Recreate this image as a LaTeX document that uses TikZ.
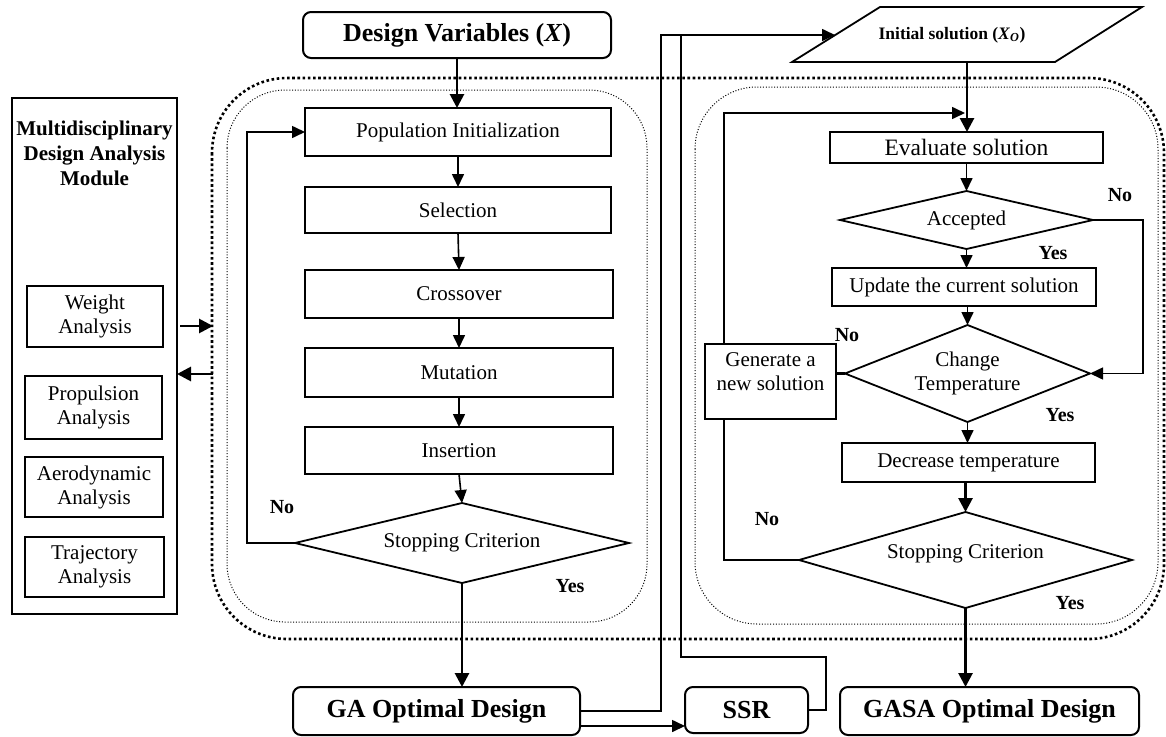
\documentclass[tikz,border=0pt]{standalone}
\usepackage{fontspec}
\setmainfont{Liberation Serif}
\usetikzlibrary{arrows.meta,shapes.geometric}
\begin{document}
\begin{tikzpicture}[x=1pt,y=-1pt,
  box/.style={draw, line width=1.5pt, inner sep=0pt, outer sep=0pt, font=\fontsize{21}{24}\selectfont, align=center},
  rbox/.style={draw, line width=2pt, rounded corners=8pt, inner sep=0pt, outer sep=0pt, font=\bfseries\fontsize{26}{30}\selectfont},
  dia/.style={draw, diamond, line width=1.8pt, inner sep=0pt, outer sep=0pt, font=\fontsize{21}{24}\selectfont, align=center},
  txt/.style={font=\fontsize{21}{24}\selectfont, align=center, inner sep=0pt},
  lbl/.style={font=\bfseries\fontsize{20}{24}\selectfont, inner sep=0pt},
  arr/.style={line width=1.6pt, -{Triangle[length=13pt,width=12pt]}},
  tarr/.style={line width=2.8pt, -{Triangle[length=14pt,width=14pt]}},
  ln/.style={line width=1.6pt},
  thickdot/.style={line width=2.6pt, dash pattern=on 2.6pt off 2.6pt},
  thindot/.style={line width=1pt, dash pattern=on 1pt off 1.8pt},
]
\useasboundingbox (0,0) rectangle (1166,736);

% dotted frames
\draw[thickdot, rounded corners=75pt] (212,78) rectangle (1164,639);
\draw[thindot, rounded corners=58pt] (227,90) rectangle (647,622);
\draw[thindot, rounded corners=62pt] (695,87) rectangle (1158,624);

% MDA module
\node[box, line width=2pt, minimum width=165, minimum height=516] (mda) at (94.5,356) {};
\node[font=\bfseries\fontsize{21}{25}\selectfont, align=center, inner sep=0pt] (mdat) at (94.5,153) {Multidisciplinary\\Design Analysis\\Module};
\node[box, minimum width=136, minimum height=61] (wt) at (95,316.5) {Weight\\Analysis};
\node[box, minimum width=137, minimum height=63] (pr) at (93.5,407.5) {Propulsion\\Analysis};
\node[box, minimum width=138, minimum height=60] (ae) at (94,487) {Aerodynamic\\Analysis};
\node[box, minimum width=139, minimum height=60] (tr) at (94.5,567) {Trajectory\\Analysis};

% GA
\node[rbox, minimum width=308, minimum height=46] (dv) at (457,35) {Design Variables (\textit{X})};
\node[box, minimum width=306, minimum height=48] (pop) at (458,132) {Population Initialization};
\node[box, minimum width=306, minimum height=46] (sel) at (458,210) {Selection};
\node[box, minimum width=308, minimum height=48] (cro) at (459,294) {Crossover};
\node[box, minimum width=308, minimum height=49] (mut) at (459,372.5) {Mutation};
\node[box, minimum width=308, minimum height=47] (ins) at (459,450.5) {Insertion};
\node[dia, aspect=4.2, minimum width=334, minimum height=80] (gst) at (462,543) {Stopping Criterion};

% bottom results
\node[rbox, minimum width=287, minimum height=48] (gao) at (436.5,711) {GA Optimal Design};
\node[rbox, minimum width=123, minimum height=46] (ssr) at (746.5,710) {SSR};
\node[rbox, minimum width=299, minimum height=48] (gasa) at (989.5,711) {GASA Optimal Design};

% SA
\draw[line width=1.8pt] (792,62) -- (880,7) -- (1142,7) -- (1055,62) -- cycle;
\node[font=\bfseries\fontsize{17.5}{20}\selectfont, inner sep=0pt] (init) at (952,35) {Initial solution (\textit{X}\textsubscript{\textit{O}})};
\coordinate (initW) at (835,35);
\coordinate (initS) at (967,62);
\node[box, minimum width=273, minimum height=31, font=\fontsize{23.5}{26}\selectfont] (eva) at (966.5,147.5) {Evaluate solution};
\node[dia, aspect=4.36, minimum width=253, minimum height=58] (acc) at (966.5,220) {Accepted};
\node[box, minimum width=264, minimum height=38] (upd) at (964,287) {Update the current solution};
\node[dia, aspect=2.53, minimum width=245, minimum height=97] (chg) at (967.5,373.5) {Change\\Temperature};
\node[box, minimum width=253, minimum height=39] (dec) at (968.5,462.5) {Decrease temperature};
\node[dia, aspect=3.47, minimum width=333, minimum height=96] (sst) at (965.5,560) {Stopping Criterion\\[-8pt]};
\node[box, minimum width=131, minimum height=75] (gen) at (770.5,381.5) {};
\node[txt] (gent) at (770.5,372) {Generate a\\new solution};
\coordinate (gx) at (724,0);

% MDA <-> GA
\draw[tarr] ([xshift=3pt,yshift=30pt]mda.east) -- ++(33,0);
\draw[tarr] ([xshift=36pt,yshift=-18pt]mda.east) -- ([yshift=-18pt]mda.east);

% GA connectors
\draw[tarr] (dv.south) -- (dv.south |- pop.north);
\draw[arr] (pop.south) -- (pop.south |- sel.north);
\draw[arr] (sel.south) -- (cro.north);
\draw[arr] (cro.south) -- (cro.south |- mut.north);
\draw[arr] (mut.south) -- (mut.south |- ins.north);
\draw[arr] (ins.south) -- (gst.north);
\draw[arr] (gst.west) -- (247,543) |- (pop.west);
\draw[tarr] (gst.south) -- (gst.south |- gao.north);

% GA result -> SSR -> SA
\draw[arr] (gao.east) -| (661,35) -- (initW);
\draw[arr] ([yshift=-15pt]gao.east) -- ([yshift=-15pt]gao.east -| ssr.west);
\draw[ln] (ssr.east) -- (826,710) -- (826,657) -- (681,657) -- (681,35);

% SA connectors
\draw[tarr] (initS) -- (initS |- eva.north);
\draw[arr] (eva.south) -- (eva.south |- acc.north);
\draw[arr] (acc.south) -- (acc.south |- upd.north);
\draw[arr] (acc.east) -- (1143,220) |- (chg.east);
\draw[arr] (upd.south -| chg.north) -- (chg.north);
\draw[arr] (chg.south) -- (chg.south |- dec.north);
\draw[line width=3pt] (chg.west) -- (chg.west -| gen.east);
\draw[tarr] (dec.south -| sst.north) -- (sst.north);
\draw[ln] (sst.west) -| (gen.south -| gx);
\draw[arr] (gen.north -| gx) |- (965,113);
\draw[tarr] (sst.south) -- (sst.south |- gasa.north);

% labels
\node[lbl] (l1) at (282,507) {No};
\node[lbl] (l2) at (570,586) {Yes};
\node[lbl] (l3) at (1120,195) {No};
\node[lbl] (l4) at (1053,253) {Yes};
\node[lbl] (l5) at (847,335) {No};
\node[lbl] (l6) at (1060,415) {Yes};
\node[lbl] (l7) at (767,519) {No};
\node[lbl] (l8) at (1070,603) {Yes};
\end{tikzpicture}
\end{document}
